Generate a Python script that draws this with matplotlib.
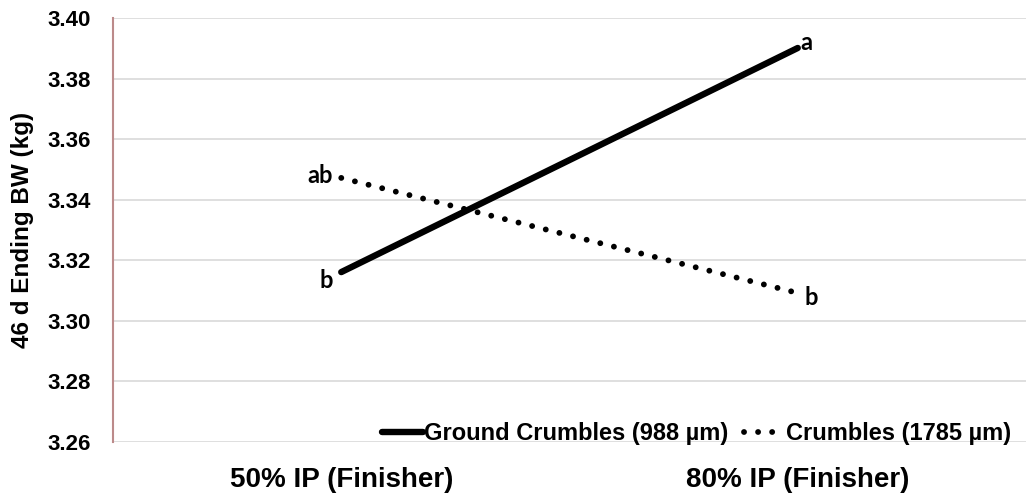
import matplotlib
matplotlib.use("Agg")
import matplotlib.pyplot as plt

categories = ["50% IP (Finisher)", "80% IP (Finisher)"]
series_names = ["Ground Crumbles (988 µm)", "Crumbles (1785 µm)"]
ground = [3.3161, 3.3901]
crumbles = [3.3472, 3.3092]
ground_letters = ["b", "a"]
crumbles_letters = ["ab", "b"]
yticks = [3.26, 3.28, 3.30, 3.32, 3.34, 3.36, 3.38, 3.40]
ylabel = "46 d Ending BW (kg)"

fig = plt.figure(figsize=(10.26, 5.0), dpi=100)
ax = fig.add_axes([113/1026, 58/500, 913/1026, 424/500])

x = list(range(len(categories)))
ax.plot(x, ground, color="black", lw=4.6, solid_capstyle="round",
        label=series_names[0], zorder=3)
ax.plot(x, crumbles, color="black", lw=4.2, linestyle=(0, (0.01, 2.4)),
        dash_capstyle="round", label=series_names[1], zorder=3)

ax.set_xlim(-0.5, 1.5)
ax.set_ylim(3.26, 3.40)
ax.set_yticks(yticks)
ax.set_yticklabels([f"{v:.2f}" for v in yticks], fontsize=16, fontweight="bold",
                   family="Liberation Sans")
ax.set_xticks(x)
ax.set_xticklabels(categories, fontsize=20, fontweight="bold", family="Liberation Sans")
ax.tick_params(axis="y", length=0, pad=16)
ax.tick_params(axis="x", length=0, pad=18)
ax.grid(axis="y", color="#d9d9d9", lw=1.2)
ax.set_axisbelow(True)
for s in ["top", "right", "bottom"]:
    ax.spines[s].set_visible(False)
ax.spines["left"].set_color("#bc8a8a")
ax.spines["left"].set_linewidth(1.5)

ax.set_ylabel(ylabel, fontsize=17.5, fontweight="bold", family="Liberation Sans")
ax.yaxis.set_label_coords(-0.087, 0.5)

lab_font = dict(fontsize=17, fontweight="bold", family="Lato")
ax.annotate(ground_letters[0], (x[0], ground[0]), xytext=(-6, -6), textcoords="offset points",
            ha="right", va="center", **lab_font)
ax.annotate(ground_letters[1], (x[1], ground[1]), xytext=(2, 4), textcoords="offset points",
            ha="left", va="center", **lab_font)
ax.annotate(crumbles_letters[0], (x[0], crumbles[0]), xytext=(-6, 2), textcoords="offset points",
            ha="right", va="center", **lab_font)
ax.annotate(crumbles_letters[1], (x[1], crumbles[1]), xytext=(5, -3), textcoords="offset points",
            ha="left", va="center", **lab_font)

leg = ax.legend(loc="lower right", bbox_to_anchor=(0.999, -0.04), ncol=2, frameon=False,
                prop=dict(size=17, weight="bold", family="Liberation Sans"),
                handlelength=1.7, handletextpad=0.05, columnspacing=0.7, borderaxespad=0.2)

fig.savefig("out.png", dpi=100)
